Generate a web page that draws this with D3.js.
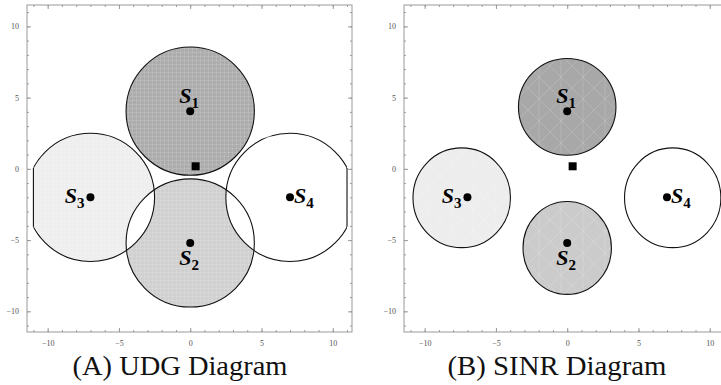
<!DOCTYPE html>
<html>
<head>
<meta charset="utf-8">
<script src="https://cdn.jsdelivr.net/npm/d3@7"></script>
<style>
  body { margin: 0; background: #fff; }
  svg { display: block; }
</style>
</head>
<body>
<div id="chart"></div>
<script>
(function(){

// ---- data ----
var captions = ["(A) UDG Diagram", "(B) SINR Diagram"];
var stationNames = ["1", "2", "3", "4"];
var stationX = [0, 0, -7, 7];
var stationY = [4.05, -5.2, -2, -2];
var receiver = [0.38, 0.18];
var udgRadius = 4.5;
var udgClipX = [-11, 11];
// SINR reception zones (slightly non-circular)
var sinrX = [0, 0, -7.4, 7.4];
var sinrY = [4.35, -5.55, -2.03, -2.03];
var sinrRx = [3.42, 3.1, 3.42, 3.38];
var sinrRy = [3.4, 3.26, 3.5, 3.5];
var majorTicks = [-10, -5, 0, 5, 10];
var minorTicks = d3.range(-11, 12);

var fillsA = ["#acacac", "#d0d0d0", "#eeeeee", "#ffffff"];
var fillsB = ["#a8a8a8", "#cbcbcb", "#ededed", "#ffffff"];

var width = 721, height = 385;
var serif = "Liberation Serif";

var svg = d3.select("#chart").append("svg")
  .attr("width", width)
  .attr("height", height)

var defs = svg.append("defs")

// faint mesh texture, like the RegionPlot mesh
var grid = defs.append("pattern")
  .attr("id", "mesh")
  .attr("width", 4).attr("height", 4)
  .attr("patternUnits", "userSpaceOnUse")
grid.append("path").attr("d", "M0,0.5H4M0.5,0V4")
  .attr("stroke", "#fff").attr("stroke-opacity", 0.12).attr("fill", "none")

var diag = defs.append("pattern")
  .attr("id", "diag")
  .attr("width", 22).attr("height", 22)
  .attr("patternUnits", "userSpaceOnUse")
diag.append("path").attr("d", "M0,0L22,22M22,0L0,22M11,0V22")
  .attr("stroke", "#fff").attr("stroke-opacity", 0.15).attr("fill", "none")

// one frame per panel
function makePanel(left, id){
  var x = d3.scaleLinear().domain([-11.45, 11.35]).range([left, left + 325]);
  var y = d3.scaleLinear().domain([-11.45, 11.5]).range([332, 5]);
  var g = svg.append("g").attr("class", "panel-" + id);

  defs.append("clipPath").attr("id", "frame-" + id)
    .append("rect")
    .attr("x", x(-11.45)).attr("y", y(11.5))
    .attr("width", x(11.35) - x(-11.45)).attr("height", y(-11.45) - y(11.5));

  return {x: x, y: y, g: g};
}

function drawFrame(p){
  var x = p.x, y = p.y, g = p.g;
  var axisColor = "#9a9a9a";
  var f = g.append("g").attr("class", "frame")
  f.append("rect")
    .attr("x", x.range()[0]).attr("y", y.range()[1])
    .attr("width", x.range()[1] - x.range()[0])
    .attr("height", y.range()[0] - y.range()[1])
    .attr("fill", "none").attr("stroke", axisColor).attr("stroke-width", 1)

  var fmt = function(d){ return d < 0 ? "\u2212" + Math.abs(d) : d; };

  f.append("g").attr("transform", "translate(0," + y.range()[0] + ")")
    .call(d3.axisBottom(x).tickValues(majorTicks).tickSize(-4).tickPadding(8).tickFormat(fmt))
  f.append("g").attr("transform", "translate(" + x.range()[0] + ",0)")
    .call(d3.axisLeft(y).tickValues(majorTicks).tickSize(-4).tickPadding(8).tickFormat(fmt))
  f.append("g").attr("transform", "translate(0," + y.range()[1] + ")")
    .call(d3.axisTop(x).tickValues(majorTicks).tickSize(-4).tickFormat(""))
  f.append("g").attr("transform", "translate(" + x.range()[1] + ",0)")
    .call(d3.axisRight(y).tickValues(majorTicks).tickSize(-4).tickFormat(""))
  // minor ticks
  f.append("g").attr("transform", "translate(0," + y.range()[0] + ")")
    .call(d3.axisBottom(x).tickValues(minorTicks).tickSize(-2).tickFormat(""))
  f.append("g").attr("transform", "translate(" + x.range()[0] + ",0)")
    .call(d3.axisLeft(y).tickValues(minorTicks).tickSize(-2).tickFormat(""))
  f.append("g").attr("transform", "translate(0," + y.range()[1] + ")")
    .call(d3.axisTop(x).tickValues(minorTicks).tickSize(-2).tickFormat(""))
  f.append("g").attr("transform", "translate(" + x.range()[1] + ",0)")
    .call(d3.axisRight(y).tickValues(minorTicks).tickSize(-2).tickFormat(""))

  f.selectAll(".domain").remove()
  f.selectAll(".tick line").attr("stroke", axisColor)
  f.selectAll("g").attr("font-family", serif).attr("font-size", 8)
  f.selectAll(".tick text")
    .attr("fill", "#555")
}

function drawStations(p){
  var x = p.x, y = p.y, g = p.g;
  // receiver
  g.append("rect")
    .attr("x", x(receiver[0]) - 4).attr("y", y(receiver[1]) - 4)
    .attr("width", 8).attr("height", 8)
    .attr("fill", "#000")

  var st = g.selectAll(".station")
    .data(stationNames)
    .enter().append("g").attr("class", "station")

  st.append("circle")
    .attr("cx", function(d, i){ return x(stationX[i]) })
    .attr("cy", function(d, i){ return y(stationY[i]) })
    .attr("r", 4)
    .attr("fill", "#000")

  // label placement: S1 above, S2 below, S3 left, S4 right
  var offs = [[-1, -8, "middle"], [-1, 22, "middle"], [-6, 6, "end"], [4, 6, "start"]];
  var lab = st.append("text")
    .attr("x", function(d, i){ return x(stationX[i]) + offs[i][0] })
    .attr("y", function(d, i){ return y(stationY[i]) + offs[i][1] })
    .attr("text-anchor", function(d, i){ return offs[i][2] })
    .attr("font-family", serif)
    .attr("font-weight", "bold")
    .attr("font-size", 22)
  lab.append("tspan").attr("font-style", "italic").text("S")
  lab.append("tspan").attr("font-size", 15).attr("dy", 5).text(function(d){ return d })
}

function caption(cx, text, len){
  svg.append("text")
    .attr("x", cx).attr("y", 375)
    .attr("text-anchor", "middle")
    .attr("font-family", serif)
    .attr("font-size", 28)
    .attr("textLength", len)
    .attr("lengthAdjust", "spacingAndGlyphs")
    .attr("fill", "#111")
    .text(text)
}

// ---------- panel A: UDG ----------
var A = makePanel(27, "a");
defs.append("clipPath").attr("id", "udg-clip")
  .append("rect")
  .attr("x", A.x(udgClipX[0])).attr("y", 0)
  .attr("width", A.x(udgClipX[1]) - A.x(udgClipX[0])).attr("height", height)

var udg = A.g.append("g").attr("clip-path", "url(#udg-clip)")
var rpx = A.x(udgRadius) - A.x(0);
var rpy = A.y(0) - A.y(udgRadius);

stationNames.forEach(function(d, i){
  defs.append("clipPath").attr("id", "udg-c" + i)
    .append("ellipse")
    .attr("cx", A.x(stationX[i])).attr("cy", A.y(stationY[i]))
    .attr("rx", rpx).attr("ry", rpy)
})

udg.selectAll(".disc")
  .data(stationNames)
  .enter().append("ellipse")
  .attr("class", "disc")
  .attr("cx", function(d, i){ return A.x(stationX[i]) })
  .attr("cy", function(d, i){ return A.y(stationY[i]) })
  .attr("rx", rpx).attr("ry", rpy)
  .attr("fill", function(d, i){ return fillsA[i] })
udg.selectAll(".mesh")
  .data(stationNames)
  .enter().append("ellipse")
  .attr("cx", function(d, i){ return A.x(stationX[i]) })
  .attr("cy", function(d, i){ return A.y(stationY[i]) })
  .attr("rx", rpx).attr("ry", rpy)
  .attr("fill", "url(#mesh)")

// overlap of two discs -> nobody is heard (white lens)
stationNames.forEach(function(d, i){
  stationNames.forEach(function(e, j){
    if (j <= i) return;
    var dd = Math.hypot(stationX[i] - stationX[j], stationY[i] - stationY[j]);
    if (dd >= 2 * udgRadius) return;
    udg.append("ellipse")
      .attr("clip-path", "url(#udg-c" + i + ")")
      .attr("cx", A.x(stationX[j])).attr("cy", A.y(stationY[j]))
      .attr("rx", rpx).attr("ry", rpy)
      .attr("fill", "#fff")
  })
})

udg.selectAll(".ring")
  .data(stationNames)
  .enter().append("ellipse")
  .attr("cx", function(d, i){ return A.x(stationX[i]) })
  .attr("cy", function(d, i){ return A.y(stationY[i]) })
  .attr("rx", rpx).attr("ry", rpy)
  .attr("fill", "none")
  .attr("stroke", "#111").attr("stroke-width", 1.1)

// straight edges where discs hit the plot range
stationNames.forEach(function(d, i){
  udgClipX.forEach(function(cx){
    var dx = cx - stationX[i];
    if (Math.abs(dx) >= udgRadius) return;
    var h = Math.sqrt(udgRadius * udgRadius - dx * dx);
    A.g.append("line")
      .attr("x1", A.x(cx)).attr("x2", A.x(cx))
      .attr("y1", A.y(stationY[i] + h)).attr("y2", A.y(stationY[i] - h))
      .attr("stroke", "#111").attr("stroke-width", 1.1)
  })
})

drawFrame(A);
drawStations(A);
caption(180, captions[0], 215);

// ---------- panel B: SINR ----------
var B = makePanel(404, "b");
var sinr = B.g.append("g").attr("clip-path", "url(#frame-b)")
sinr.selectAll(".cell")
  .data(stationNames)
  .enter().append("ellipse")
  .attr("class", "cell")
  .attr("cx", function(d, i){ return B.x(sinrX[i]) })
  .attr("cy", function(d, i){ return B.y(sinrY[i]) })
  .attr("rx", function(d, i){ return B.x(sinrRx[i]) - B.x(0) })
  .attr("ry", function(d, i){ return B.y(0) - B.y(sinrRy[i]) })
  .attr("fill", function(d, i){ return fillsB[i] })
  .attr("stroke", "#111").attr("stroke-width", 1.1)
sinr.selectAll(".tex")
  .data(stationNames)
  .enter().append("ellipse")
  .attr("cx", function(d, i){ return B.x(sinrX[i]) })
  .attr("cy", function(d, i){ return B.y(sinrY[i]) })
  .attr("rx", function(d, i){ return B.x(sinrRx[i]) - B.x(0) - 1 })
  .attr("ry", function(d, i){ return B.y(0) - B.y(sinrRy[i]) - 1 })
  .attr("fill", "url(#diag)")

drawFrame(B);
drawStations(B);
caption(557, captions[1], 219);

})();
</script>
</body>
</html>
